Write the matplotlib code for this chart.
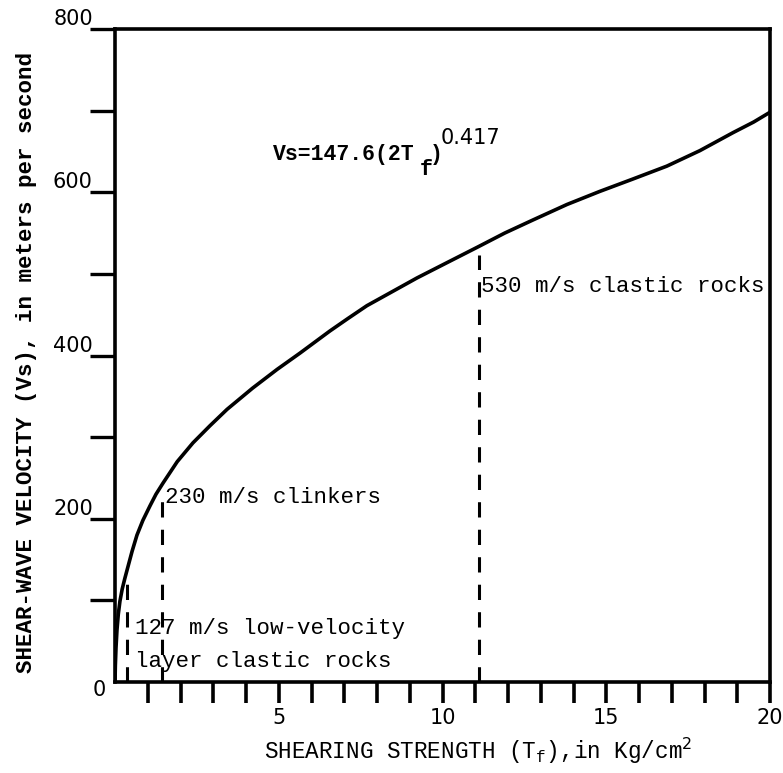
import matplotlib
matplotlib.use("Agg")
import matplotlib.pyplot as plt
from matplotlib.ticker import FixedLocator

# ---- data ----
strength = [0, 0.01, 0.03, 0.06, 0.1, 0.15, 0.22, 0.3, 0.4, 0.52, 0.67, 0.85, 1.07,
            1.25, 1.47, 1.9, 2.38, 2.9, 3.42, 4.2, 4.95, 5.65, 6.56, 7.1, 7.69, 8.5,
            9.22, 10.1, 11.08, 11.9, 12.76, 13.8, 14.8, 15.8, 16.85, 17.86, 18.87,
            19.5, 20]
velocity = [0, 20, 42, 64, 83, 99, 114, 127, 142, 160, 180, 198, 216,
            230, 244, 270, 293, 314, 334, 360, 383, 403, 430, 445, 461, 479,
            495, 513, 533, 550, 566, 585, 601, 616, 632, 651, 673,
            686, 698]
marker_x = [0.37, 1.43, 11.1]
marker_v = [128, 227, 523]
x_tick_labels = {5: "5", 10: "10", 15: "15", 20: "20"}
y_tick_labels = {200: "200", 400: "400", 600: "600", 800: "800"}

MONO = "Liberation Mono"
SANS = "DejaVu Sans"
FS = 16.2

fig = plt.figure(figsize=(7.83, 7.73), dpi=100)
ax = fig.add_axes([0.1469, 0.1177, 0.8365, 0.8448])
ax.set_xlim(0, 20)
ax.set_ylim(0, 800)

ax.plot(strength, velocity, color="black", lw=2.6, solid_capstyle="round",
        solid_joinstyle="round")

for mx, mv in zip(marker_x, marker_v):
    ax.plot([mx, mx], [0, mv], color="black", lw=2.2, dashes=(5, 4))

# annotations
ax.text(0.61, 66, "127 m/s low-velocity", family=MONO, fontsize=FS,
        va="center", ha="left")
ax.text(0.61, 25, "layer clastic rocks", family=MONO, fontsize=FS,
        va="center", ha="left")
ax.text(1.53, 226, "230 m/s clinkers", family=MONO, fontsize=FS,
        va="center", ha="left")
ax.text(11.18, 484, "530 m/s clastic rocks", family=MONO, fontsize=FS,
        va="center", ha="left")

# formula
ax.text(4.82, 646, "Vs=147.6(2T", family=MONO, fontsize=15.5, fontweight="bold",
        va="center", ha="left")
ax.text(9.3, 628, "f", family=MONO, fontsize=15.5, fontweight="bold",
        va="center", ha="left")
ax.text(9.6, 646, ")", family=MONO, fontsize=15.5, fontweight="bold",
        va="center", ha="left")
ax.text(9.95, 667, "0.417", family=SANS, fontsize=15, va="center", ha="left")

# origin label
ax.text(-0.49, -10, "0", family=SANS, fontsize=15, va="center", ha="center",
        clip_on=False)

# spines
for s in ax.spines.values():
    s.set_linewidth(2.6)

# ticks
ax.xaxis.set_major_locator(FixedLocator(list(range(1, 21))))
ax.set_xticklabels([x_tick_labels.get(i, "") for i in range(1, 21)],
                   family=SANS, fontsize=15)
yt = list(range(100, 900, 100))
ax.yaxis.set_major_locator(FixedLocator(yt))
ax.set_yticklabels([y_tick_labels.get(v, "") for v in yt],
                   family=SANS, fontsize=15, va="bottom")
ax.tick_params(axis="x", direction="out", length=15, width=2.6, pad=4)
ax.tick_params(axis="y", direction="out", length=18, width=2.4, pad=-2)

ax.set_xlabel("SHEARING STRENGTH (T$_{\\mathregular{f}}$),in Kg/cm$^2$",
              family=MONO, fontsize=16.3)
ax.xaxis.set_label_coords(0.555, -0.082)
ax.set_ylabel("SHEAR-WAVE VELOCITY (Vs), in meters per second",
              family=MONO, fontsize=16.2, fontweight="bold")
ax.yaxis.set_label_coords(-0.119, 0.49)

fig.savefig("out.png", dpi=100)
